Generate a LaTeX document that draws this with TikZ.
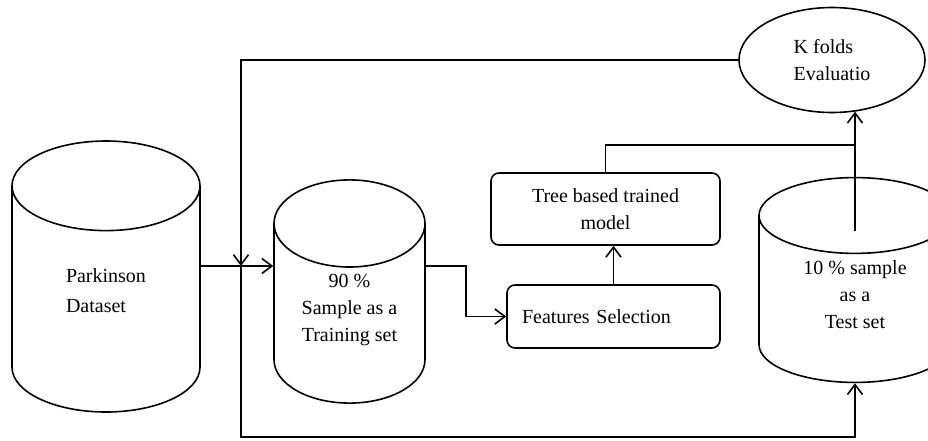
\documentclass[tikz,border=0pt]{standalone}
\usepackage{fontspec}
\setmainfont{Liberation Serif}
\usepackage{tikz}
\usetikzlibrary{arrows.meta, positioning, shapes.geometric}

\begin{document}
\begin{tikzpicture}[
    x=0.5pt, y=-0.5pt,
    font=\fontsize{10pt}{13.5pt}\selectfont,
    store/.style={cylinder, shape border rotate=90, draw, line width=0.8pt, anchor=shape center, align=center},
    block/.style={rectangle, draw, rounded corners=4pt, line width=0.8pt, align=center},
    arrow/.style={-{Straight Barb[length=5pt, width=7.5pt]}, line width=0.8pt},
    link/.style={line width=0.8pt},
]
\clip (0,0) rectangle (928,440);

% Data stores
\node[store, minimum height=135.5pt, minimum width=94pt, aspect=0.96, align=left, text depth=17pt,
      font=\fontsize{10pt}{15pt}\selectfont] (dataset) at (106,276.5) {Parkinson\\Dataset};
\node[store, minimum height=90.5pt, minimum width=75.5pt, aspect=0.8, text depth=14.5pt] (training) at (349.5,291.5) {90 \%\\Sample as a\\Training set};
\node[store, minimum height=92pt, minimum width=96pt, aspect=0.65, text depth=11.5pt] (test) at (855,280) {10 \% sample\\as a\\Test set};

% Processing steps
\node[block, minimum width=114.5pt, minimum height=36pt] (tree) at (605.5,209) {Tree based trained\\model};
\node[block, minimum width=106.5pt, minimum height=31.5pt, text width=91.5pt, inner xsep=7.5pt, align=left] (features) at (613.5,316.5) {Features Selection};
\node[ellipse, draw, line width=0.8pt, minimum width=93pt, minimum height=52.5pt, align=left] (kfolds) at (832,60) {K folds\\Evaluatio};

% Helper points
\coordinate (split) at (241,266);
\coordinate (loop) at (241,437);
\coordinate (merge) at (855,145);
\coordinate (cut) at ([yshift=-27pt]test.top);

% Arrows
\draw[arrow] (dataset.east |- split) -- (training.west |- split);
\draw[arrow] (kfolds.west) -| (split);
\draw[arrow] (split) -- (loop) -| (test.bottom);
\draw[arrow] (training.east |- split) -- ++(40,0) |- (features.west);
\draw[arrow] (features.north) -- (features.north |- tree.south);
\draw[link] (tree.north) |- (merge);
\draw[arrow] (cut) -- (cut |- kfolds.-66);

\end{tikzpicture}
\end{document}
